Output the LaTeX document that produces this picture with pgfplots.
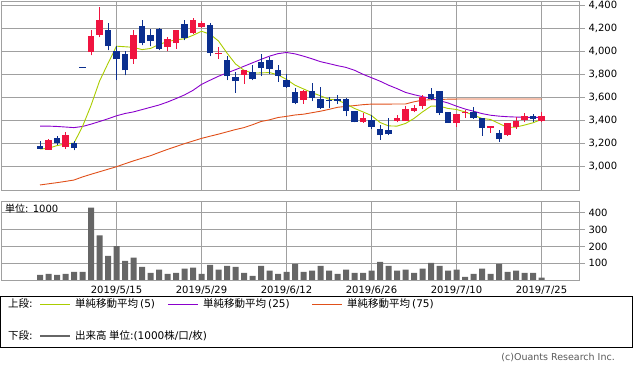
\documentclass[border=0pt]{standalone}
\usepackage{pgfplots}
\pgfplotsset{compat=1.18}
\usepackage{pgfplotstable}
\usepackage{fontspec}
\setmainfont{DejaVu Sans}
\newfontfamily\jp{Noto Sans CJK JP}
\definecolor{upred}{HTML}{F01440}
\definecolor{dnblue}{HTML}{0B2F8F}
\definecolor{smaA}{HTML}{AACC00}
\definecolor{smaB}{HTML}{8A00CC}
\definecolor{smaC}{HTML}{E0501A}
\definecolor{gridg}{HTML}{A0A0A0}
\definecolor{volg}{HTML}{666666}

\pgfplotstableread{
i O H L C
1 3142 3232 3140 3226
3 3168 3300 3150 3270
6 3994 4183 3965 4130
7 4145 4390 4125 4270
11 3930 4190 3893 4145
15 4037 4124 4000 4104
16 4072 4183 4023 4183
18 4159 4287 4150 4270
19 4211 4264 4205 4246
21 3975 4037 3937 3987
24 3797 3835 3719 3835
31 3574 3667 3541 3655
38 3383 3460 3377 3417
42 3394 3443 3383 3420
43 3394 3522 3394 3493
44 3481 3530 3470 3510
45 3522 3617 3493 3603
49 3377 3452 3342 3452
50 3464 3487 3420 3475
53 3330 3348 3290 3348
55 3270 3371 3262 3371
56 3336 3429 3325 3394
57 3400 3458 3383 3435
59 3394 3467 3383 3435
}\up

\pgfplotstableread{
i O H L C
0 3176 3215 3148 3150
2 3246 3264 3185 3203
4 3197 3220 3136 3159
5 3866 3866 3858 3858
8 4183 4246 4009 4046
9 4003 4050 3750 3930
10 3980 4000 3790 3835
12 4217 4270 4052 4076
13 4139 4197 4043 4090
14 4197 4200 4010 4023
17 4235 4270 4096 4116
20 4226 4246 3957 3985
22 3928 3957 3748 3785
23 3774 3820 3637 3739
25 3820 3878 3750 3757
26 3907 3974 3783 3855
27 3928 3948 3800 3843
28 3840 3881 3733 3785
29 3748 3800 3681 3690
30 3646 3681 3537 3550
32 3652 3720 3565 3594
33 3583 3690 3500 3510
34 3580 3600 3510 3567
35 3587 3620 3545 3568
36 3583 3590 3432 3478
37 3478 3478 3380 3380
39 3400 3443 3325 3342
40 3319 3360 3230 3270
41 3313 3417 3270 3276
46 3632 3684 3574 3588
47 3652 3652 3443 3464
48 3470 3470 3377 3377
51 3472 3516 3414 3423
52 3415 3415 3264 3333
54 3290 3313 3212 3232
58 3438 3452 3383 3409
}\down

\pgfplotstableread{
i A B C
0 3148 3348 2835
1 3155 3348 2845
2 3178 3345 2855
3 3192 3340 2866
4 3200 3335 2878
5 3345 3345 2905
6 3528 3365 2928
7 3740 3388 2950
8 3895 3412 2972
9 4045 3438 2994
10 4040 3458 3020
11 4035 3472 3045
12 4015 3492 3068
13 4025 3512 3090
14 4060 3532 3118
15 4085 3558 3145
16 4100 3588 3170
17 4110 3620 3195
18 4140 3660 3218
19 4175 3712 3241
20 4150 3748 3260
21 4090 3783 3278
22 3985 3812 3298
23 3890 3840 3318
24 3835 3870 3335
25 3810 3900 3360
26 3812 3930 3388
27 3815 3958 3403
28 3795 3980 3423
29 3755 3990 3433
30 3705 3978 3445
31 3672 3958 3452
32 3640 3935 3465
33 3612 3910 3478
34 3582 3893 3494
35 3575 3875 3512
36 3542 3860 3520
37 3502 3835 3527
38 3472 3800 3535
39 3440 3770 3540
40 3380 3740 3540
41 3350 3705 3540
42 3348 3675 3541
43 3371 3642 3541
44 3415 3622 3560
45 3472 3605 3574
46 3522 3590 3578
47 3522 3570 3580
48 3502 3550 3583
49 3493 3522 3584
50 3472 3497 3584
51 3443 3478 3584
52 3415 3457 3584
53 3406 3443 3584
54 3371 3435 3584
55 3336 3430 3584
56 3340 3427 3584
57 3357 3425 3584
58 3377 3424 3584
59 3406 3425 3584
}\ma

\pgfplotstableread{
i V
0 31
1 37
2 31
3 37
4 49
5 49
6 431
7 266
8 143
9 202
10 114
11 133
12 78
13 43
14 61
15 37
16 43
17 67
18 73
19 37
20 90
21 61
22 84
23 78
24 43
25 25
26 84
27 55
28 37
29 49
30 96
31 49
32 55
33 84
34 55
35 37
36 61
37 43
38 43
39 55
40 108
41 84
42 55
43 61
44 43
45 67
46 102
47 84
48 55
49 61
50 19
51 37
52 67
53 37
54 96
55 49
56 55
57 43
58 43
59 14
}\vol

\pgfplotsset{
  panel/.style={
    scale only axis, anchor=south west, width=578pt,
    xmin=-4.59, xmax=63.41,
    axis line style={gridg, line width=0.9pt},
    grid=major, grid style={gridg, line width=0.9pt},
    xtick={9,19,29,39,49,59},
    xtick style={draw=none},
    ytick pos=right, yticklabel pos=right,
    ytick style={gridg, line width=0.9pt},
    tick align=outside, major tick length=6pt,
    yticklabel style={font=\fontsize{10}{11}\selectfont, anchor=west},
    /pgf/number format/assume math mode=true,
    /pgf/number format/1000 sep={,},
    scaled y ticks=false,
    clip=true,
  },
  candle/.style={only marks, mark=*, mark size=0pt, mark options={draw=none, fill=none},
    error bars/.cd, y dir=plus, y explicit, error mark=none},
}

\begin{document}
\begin{tikzpicture}[x=1pt,y=1pt]
\path[use as bounding box] (0,0) rectangle (633,371);

\begin{axis}[panel, at={(1pt,181pt)}, height=189pt,
  ymin=2791, ymax=4439, ytick={3000,3200,...,4400}, xticklabels={}]
  \addplot[smaC, line width=0.9pt] table[x=i, y=C] {\ma};
  \addplot[smaB, line width=0.9pt] table[x=i, y=B] {\ma};
  \addplot[smaA, line width=0.9pt] table[x=i, y=A] {\ma};
  % wicks
  \addplot[candle, error bar style={line width=1pt, color=upred}]
    table[x=i, y=L, y error expr=\thisrow{H}-\thisrow{L}] {\up};
  \addplot[candle, error bar style={line width=1pt, color=dnblue}]
    table[x=i, y=L, y error expr=\thisrow{H}-\thisrow{L}] {\down};
  % bodies
  \addplot[candle, error bar style={line width=6.5pt, color=upred}]
    table[x=i, y=O, y error expr=\thisrow{C}-\thisrow{O}] {\up};
  \addplot[candle, error bar style={line width=6.5pt, color=dnblue}]
    table[x=i, y=C, y error expr=\thisrow{O}-\thisrow{C}] {\down};
\end{axis}

\begin{axis}[panel, at={(1pt,91pt)}, height=79pt,
  ymin=0, ymax=470, ytick={100,200,300,400},
  xticklabels={2019/5/15,2019/5/29,2019/6/12,2019/6/26,2019/7/10,2019/7/25},
  xticklabel style={font=\fontsize{10}{11}\selectfont, inner sep=1pt, yshift=1pt}]
  \addplot[ybar, bar width=6pt, fill=volg, draw=none] table[x=i, y=V] {\vol};
\end{axis}

\node[anchor=west, font=\fontsize{10}{11}\selectfont, inner sep=0pt] at (5,162) {{\jp 単位}: 1000};

\draw[black, line width=0.9pt] (0.5,24) rectangle (632.5,75);
\begin{scope}[every node/.style={anchor=west, inner sep=0pt, font=\fontsize{10.5}{11}\selectfont}]
\node at (8,67) {{\jp 上段}:};
\draw[smaA, line width=0.9pt] (40,67) -- (70,67);
\node at (75,67) {{\jp 単純移動平均}\hspace{2pt}(5)};
\draw[smaB, line width=0.9pt] (168,67) -- (198,67);
\node at (203,67) {{\jp 単純移動平均}\hspace{2pt}(25)};
\draw[smaC, line width=0.9pt] (312,67) -- (342,67);
\node at (347,67) {{\jp 単純移動平均}\hspace{2pt}(75)};
\node at (8,35) {{\jp 下段}:};
\draw[volg, line width=2.8pt] (40,35) -- (70,35);
\node at (75,35) {{\jp 出来高 単位}:(1000{\jp 株}/{\jp 口}/{\jp 枚})};
\end{scope}
\node[anchor=east, inner sep=0pt, text=black!65, font=\fontsize{9.5}{10}\selectfont] at (615,13) {(c)Ouants Research Inc.};
\end{tikzpicture}
\end{document}
